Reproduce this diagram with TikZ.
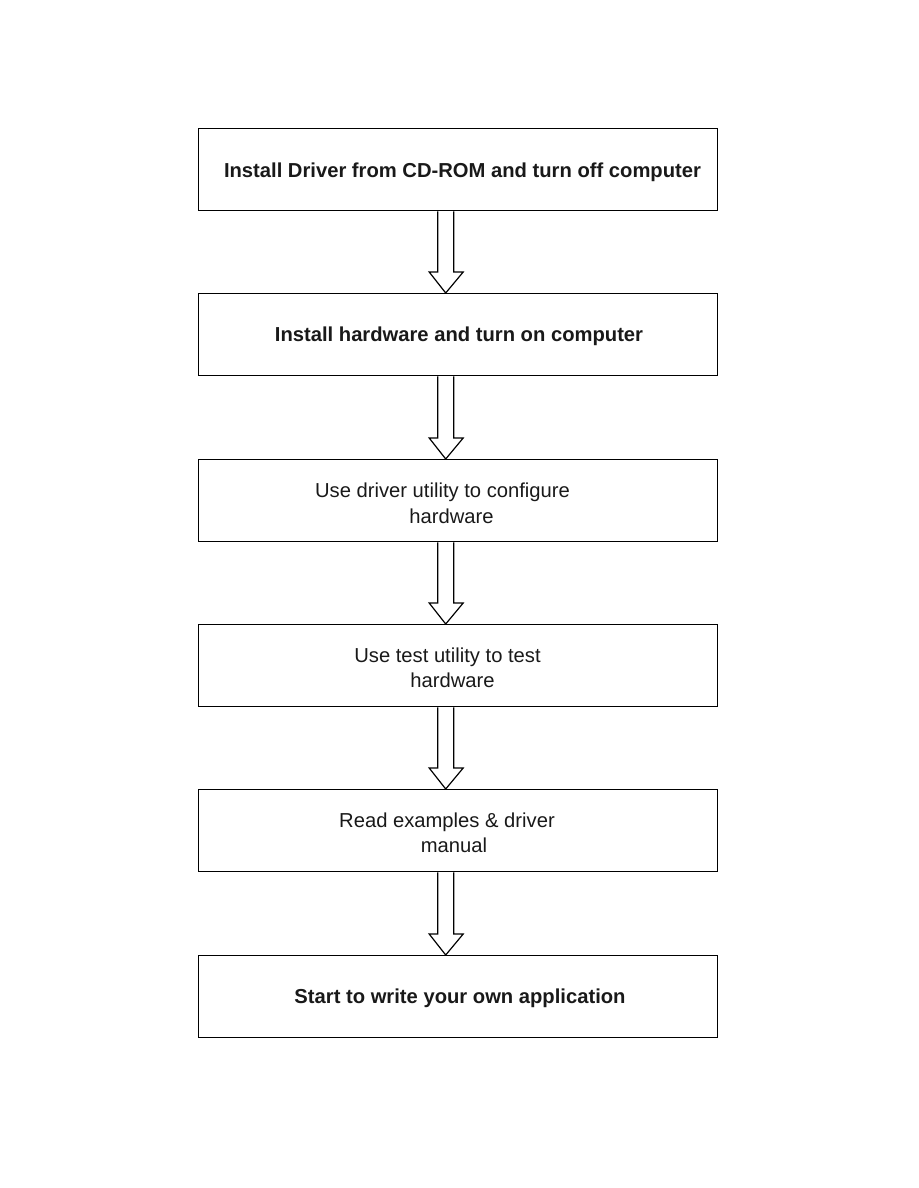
\documentclass[tikz,border=0pt]{standalone}
\usepackage{fontspec}
\setmainfont{Liberation Sans}
\tikzset{
  stepbox/.style={draw=black, line width=1.4pt, minimum width=519pt, minimum height=82pt, inner sep=0pt, anchor=north west},
  txt/.style={anchor=base, inner sep=0pt, font=\fontsize{20.2pt}{24pt}\selectfont, text=black!90},
  btxt/.style={txt, font=\fontsize{20.2pt}{24pt}\selectfont\bfseries},
  harrow/.style={draw=black, line width=1.2pt, fill=white, line join=miter}
}
\newcommand\hollowarrow[2]{%
  \draw[harrow] ([xshift=-20.5pt]#1.south) -- ([xshift=-20.5pt,yshift=21pt]#2.north)
    -- ([xshift=-29pt,yshift=21pt]#2.north) -- ([xshift=-12.5pt]#2.north)
    -- ([xshift=5pt,yshift=21pt]#2.north) -- ([xshift=-4.5pt,yshift=21pt]#2.north)
    -- ([xshift=-4.5pt]#1.south);}
\begin{document}
\begin{tikzpicture}[x=1pt,y=-1pt]
\useasboundingbox (0,0) rectangle (918,1188);
\node[stepbox] (b1) at (198,128) {};
\node[stepbox] (b2) at (198,293) {};
\node[stepbox] (b3) at (198,459) {};
\node[stepbox] (b4) at (198,624) {};
\node[stepbox] (b5) at (198,789) {};
\node[stepbox] (b6) at (198,955) {};
\node[btxt] (t1) at (462.5,177) {Install Driver from CD-ROM and turn off computer};
\node[btxt] (t2) at (459,341) {Install hardware and turn on computer};
\node[txt] (t3a) at (442.5,497) {Use driver utility to configure};
\node[txt] (t3b) at (451.5,523) {hardware};
\node[txt] (t4a) at (447.5,662) {Use test utility to test};
\node[txt] (t4b) at (452.5,687) {hardware};
\node[txt] (t5a) at (447,827) {Read examples \& driver};
\node[txt] (t5b) at (454,852) {manual};
\node[btxt] (t6) at (460,1003) {Start to write your own application};
\hollowarrow{b1}{b2}
\hollowarrow{b2}{b3}
\hollowarrow{b3}{b4}
\hollowarrow{b4}{b5}
\hollowarrow{b5}{b6}
\end{tikzpicture}
\end{document}
